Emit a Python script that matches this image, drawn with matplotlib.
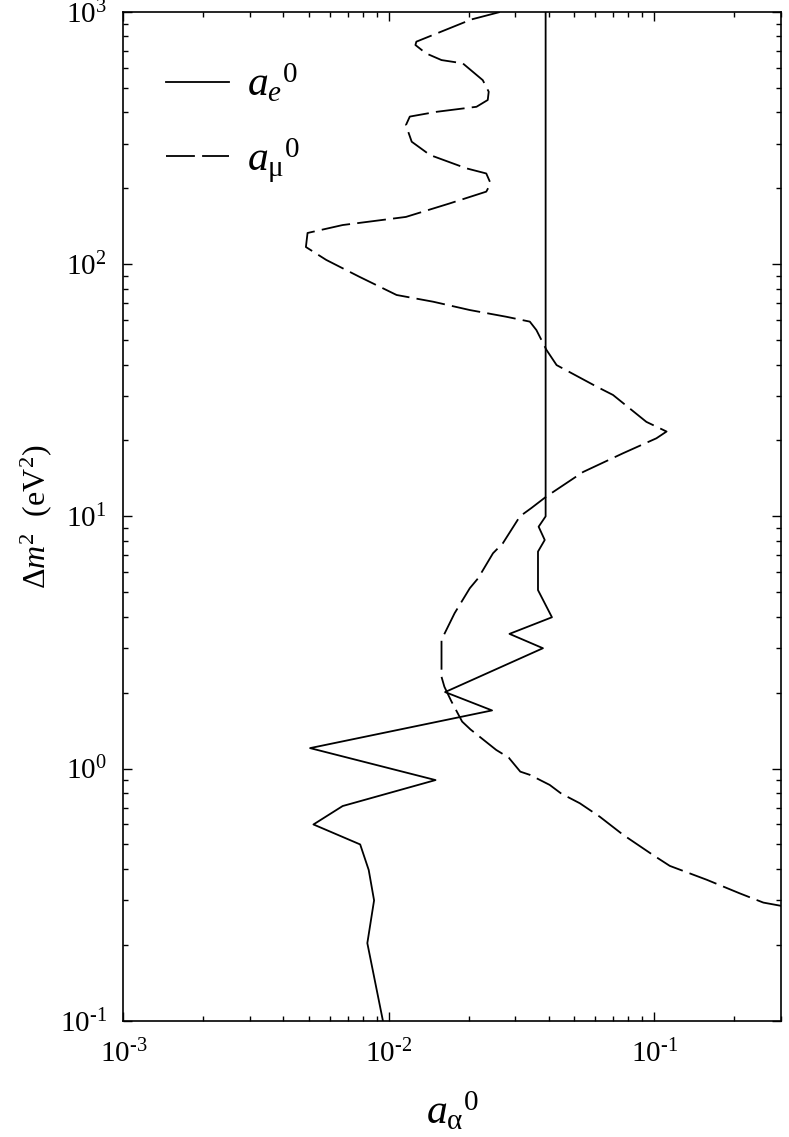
import matplotlib
matplotlib.use("Agg")
import matplotlib.pyplot as plt
from matplotlib.ticker import FuncFormatter
import numpy as np

plt.rcParams['font.family'] = ['Liberation Serif', 'DejaVu Serif']
plt.rcParams['mathtext.fontset'] = 'custom'
plt.rcParams['mathtext.rm'] = 'Liberation Serif'
plt.rcParams['mathtext.it'] = 'Liberation Serif:italic'
plt.rcParams['mathtext.bf'] = 'Liberation Serif:bold'

# a_e^0 curve (x = a, y = dm^2)
ae_x = [0.039, 0.039, 0.0367, 0.0387, 0.0365, 0.0365, 0.0412, 0.0285, 0.0381,
        0.0163, 0.0245, 0.00505, 0.0150, 0.0067, 0.0052, 0.0078, 0.0084, 0.0088,
        0.0083, 0.0095]
ae_y = [1000, 10.0, 9.1, 8.06, 7.25, 5.1, 3.98, 3.42, 3.0,
        2.01, 1.70, 1.205, 0.90, 0.71, 0.60, 0.50, 0.396, 0.30,
        0.203, 0.10]

# a_mu^0 curve
amu_x = [0.0262, 0.0205, 0.0127, 0.0126, 0.0138, 0.0158, 0.0190, 0.0226, 0.0238,
         0.0236, 0.0214, 0.0151, 0.0120, 0.0116, 0.0122, 0.0143, 0.0196, 0.0233,
         0.0242, 0.0233, 0.0169, 0.0116, 0.0067, 0.00494, 0.00487, 0.00581,
         0.00774, 0.0107, 0.0147, 0.0202, 0.0277, 0.034, 0.036, 0.0393, 0.0429,
         0.0607, 0.070, 0.0935, 0.1114, 0.102, 0.0764, 0.054, 0.0393, 0.0345,
         0.0312, 0.0269, 0.0247, 0.0217, 0.0202, 0.0177, 0.0158, 0.0158, 0.0162,
         0.0172, 0.0189, 0.0203, 0.0254, 0.0283, 0.0313, 0.034, 0.0404, 0.0447,
         0.0525, 0.0624, 0.0764, 0.099, 0.1146, 0.158, 0.210, 0.258, 0.303, 0.32]
amu_y = [1000, 935, 763, 740, 686, 645, 626, 537, 483,
         448, 421, 402, 385, 356, 306, 271, 240, 229,
         209, 194, 174, 154, 143, 133, 117, 104,
         89.2, 75.5, 71.0, 65.8, 61.9, 59.2, 54.8, 45.7, 39.8,
         32.7, 30.3, 23.7, 21.7, 20.4, 17.8, 15.0, 12.0, 10.8,
         10.0, 7.82, 7.14, 5.68, 5.19, 4.13, 3.24, 2.31, 2.11,
         1.85, 1.535, 1.43, 1.185, 1.105, 0.972, 0.944, 0.861, 0.795,
         0.728, 0.644, 0.546, 0.454, 0.411, 0.362, 0.32, 0.294, 0.285, 0.282]

labels = [r'$a_e{}^0$', r'$a_{\mathrm{\mu}}{}^0$']


def pow10(v, pos):
    e = int(round(np.log10(v)))
    s = str(e)
    return r'10$^{\text{' + s + '}}$'


fig = plt.figure(figsize=(7.89, 11.37), dpi=100)
ax = fig.add_axes([0.1565, 0.1023, 0.833, 0.8871])

ax.plot(ae_x, ae_y, color='black', lw=1.3, label=labels[0])
ax.plot(amu_x, amu_y, color='black', lw=1.3, dashes=(16, 4), label=labels[1])

ax.set_xscale('log')
ax.set_yscale('log')
ax.set_xlim(1e-3, 0.3)
ax.set_ylim(0.1, 1000)
ax.xaxis.set_major_formatter(FuncFormatter(pow10))
ax.yaxis.set_major_formatter(FuncFormatter(pow10))

for s in ax.spines.values():
    s.set_linewidth(1.2)
ax.tick_params(which='both', direction='in', top=True, right=True, width=1.0)
ax.tick_params(which='major', length=6.5, labelsize=21)
ax.tick_params(which='minor', length=3.6)
ax.tick_params(axis='x', which='major', pad=14)
ax.tick_params(axis='y', which='major', pad=12)

ax.set_xlabel(r'$a_{\mathrm{\alpha}}{}^0$', fontsize=30, labelpad=16)
ax.set_ylabel(r'$\Delta m^2$  (eV$^2$)', fontsize=23, labelpad=4)

leg = ax.legend(loc='upper left', bbox_to_anchor=(0.065, 0.95), frameon=False,
                fontsize=30, handlelength=1.5, handletextpad=0.45,
                labelspacing=0.75, borderpad=0, borderaxespad=0)

fig.savefig('out.png', dpi=100)
